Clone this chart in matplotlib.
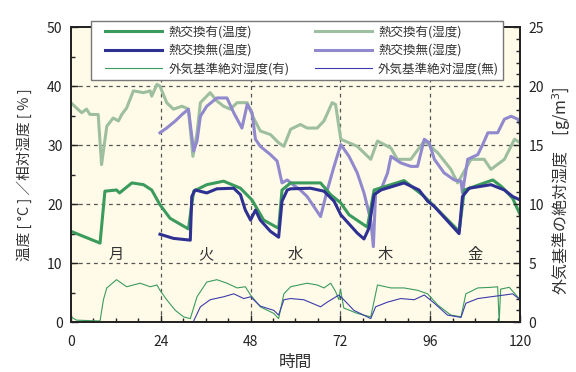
import matplotlib.pyplot as plt
from matplotlib.ticker import MultipleLocator
from matplotlib.lines import Line2D
from matplotlib.legend_handler import HandlerLine2D

plt.rcParams['font.family'] = ['Noto Sans CJK JP', 'DejaVu Sans']

# 熱交換有(温度)
t_temp_on = [0, 7.8, 9.1, 12.2, 13.0, 16.3, 19.4, 21.6, 23.8, 26.5, 31.4, 32.8, 36.3, 40.8,
             45.3, 48.4, 51.5, 55.5, 56.4, 58.7, 66.7, 69.4, 72.1, 74.3, 79.2, 81.0, 89.0,
             94.4, 97.1, 103.7, 105.1, 112.7, 115.0, 118.0, 120]
v_temp_on = [15.4, 13.4, 22.2, 22.4, 21.9, 23.6, 23.3, 22.4, 19.9, 17.6, 15.8, 22.2, 23.3, 23.9,
             22.7, 20.7, 17.3, 15.9, 22.4, 23.6, 23.6, 21.6, 20.2, 18.2, 16.1, 22.4, 24.0,
             21.3, 19.6, 15.4, 22.4, 24.1, 23.0, 21.0, 18.2]

# 熱交換無(温度)
t_temp_off = [23.8, 27.4, 31.9, 32.3, 33.2, 36.3, 39.0, 43.5, 45.3, 46.6, 48.0, 49.3, 50.6,
              53.3, 55.5, 56.4, 57.8, 58.7, 64.0, 67.6, 70.3, 72.1, 76.5, 78.3, 79.6, 81.0,
              82.8, 89.0, 93.0, 95.3, 97.1, 103.7, 104.6, 106.4, 112.2, 115.8, 118.0, 120]
v_temp_off = [14.9, 14.2, 13.9, 21.3, 22.4, 21.9, 22.6, 22.7, 21.6, 19.0, 17.3, 19.0, 17.3,
              15.4, 14.4, 20.5, 22.4, 22.6, 22.7, 22.2, 20.5, 18.2, 15.1, 14.1, 15.9, 21.6,
              22.4, 23.6, 22.4, 20.5, 19.6, 15.0, 21.3, 22.7, 23.3, 22.4, 21.3, 20.7]

# 熱交換有(湿度)
t_rh_on = [0, 1.5, 2.9, 4.2, 5.1, 7.3, 8.2, 9.6, 11.3, 12.7, 13.6, 14.9, 16.7, 19.4, 21.2,
           21.6, 23.0, 23.8, 25.6, 27.4, 29.7, 31.4, 32.6, 33.7, 34.6, 37.2, 39.0, 40.8,
           42.6, 44.4, 47.1, 48.8, 50.6, 53.3, 55.5, 56.9, 58.7, 61.3, 63.1, 65.8, 67.6,
           69.8, 70.7, 72.1, 76.5, 80.1, 81.9, 85.5, 87.2, 90.8, 94.4, 98.0, 101.5, 103.3,
           106.9, 110.4, 112.2, 115.8, 118.5, 120]
v_rh_on = [37.2, 36.3, 35.5, 36.1, 35.2, 35.2, 26.7, 33.2, 34.6, 34.1, 35.2, 36.3, 39.2, 38.9,
           39.2, 38.3, 40.3, 40.0, 37.2, 36.1, 36.6, 36.1, 28.1, 32.1, 37.2, 38.9, 37.5, 36.6,
           36.1, 37.2, 37.2, 34.6, 32.4, 31.8, 30.4, 29.8, 32.7, 33.5, 32.9, 32.9, 34.1,
           37.2, 36.9, 31.0, 29.8, 27.6, 30.7, 29.5, 27.6, 27.6, 30.7, 28.7, 25.9, 23.6,
           27.6, 27.6, 25.9, 27.6, 31.0, 30.4]

# 熱交換無(湿度)
t_rh_off = [23.8, 25.6, 27.9, 29.7, 31.4, 32.8, 33.7, 34.6, 36.3, 39.0, 41.7, 43.5, 45.7,
            47.1, 48.4, 49.3, 50.6, 53.3, 55.1, 56.4, 57.8, 58.7, 61.3, 63.1, 64.9, 66.7,
            68.5, 70.3, 72.1, 74.3, 76.5, 78.3, 80.1, 80.8, 81.4, 82.8, 84.6, 85.5, 88.1,
            90.8, 92.6, 94.4, 95.7, 97.1, 99.7, 102.4, 104.2, 104.6, 106.0, 108.7, 110.0,
            111.4, 114.0, 115.8, 117.6, 119.4, 120]
v_rh_off = [32.1, 32.9, 34.1, 35.2, 36.1, 29.0, 30.7, 34.9, 36.6, 38.0, 38.0, 35.5, 32.9,
            36.9, 35.5, 31.0, 29.8, 28.4, 27.3, 23.6, 24.1, 23.6, 22.4, 21.3, 19.6, 17.9,
            22.4, 26.4, 30.1, 28.1, 25.3, 21.9, 17.3, 12.8, 21.9, 22.4, 25.3, 28.1, 27.0,
            26.4, 26.4, 31.0, 30.4, 27.6, 25.3, 24.1, 23.9, 21.9, 27.6, 28.4, 30.1,
            32.1, 32.1, 34.4, 34.9, 34.4, 33.5]

# 外気基準絶対湿度(有)  [g/m3]
t_ah_on = [0, 1.5, 7.8, 8.7, 9.6, 12.2, 14.9, 18.5, 21.2, 23.0, 23.8, 25.6, 27.9, 30.1,
           31.9, 33.7, 36.3, 39.0, 41.7, 44.4, 46.6, 48.0, 50.6, 54.2, 55.5, 56.9, 58.7,
           63.1, 65.8, 67.6, 69.4, 70.7, 71.6, 72.0, 72.9, 76.5, 80.1, 81.9, 85.5, 89.0,
           92.6, 95.3, 98.0, 101.5, 104.2, 105.5, 108.7, 112.2, 114.0, 114.4, 114.8,
           117.1, 118.9, 120]
v_ah_on = [0.45, 0.17, 0.1, 1.9, 2.9, 3.6, 3.0, 3.3, 3.0, 3.15, 2.7, 1.9, 1.0, 0.45,
           0.3, 2.15, 3.4, 3.6, 3.3, 2.9, 3.0, 2.3, 1.3, 0.74, 0.3, 2.4, 3.0,
           3.3, 3.15, 2.9, 3.3, 2.6, 1.9, 2.8, 1.2, 0.74, 0.45, 3.15, 2.9, 2.9,
           2.7, 2.4, 1.45, 0.6, 0.45, 2.4, 2.9, 2.95, 3.0, 0.0, 2.8,
           2.95, 2.3, 1.9]

# 外気基準絶対湿度(無)  [g/m3]
t_ah_off = [32.8, 34.6, 37.2, 40.8, 43.5, 46.2, 48.0, 50.6, 54.2, 55.5, 56.9, 58.7, 62.2,
            66.7, 68.5, 71.6, 72.9, 75.6, 80.1, 81.4, 84.6, 88.1, 91.7, 94.4, 97.1, 100.6,
            104.2, 105.5, 108.7, 112.2, 115.8, 118.0, 120]
v_ah_off = [0.1, 1.3, 1.9, 2.15, 2.4, 2.0, 2.15, 1.36, 1.0, 0.6, 1.9, 2.0, 1.9,
            1.3, 1.7, 2.3, 1.9, 1.0, 0.3, 1.3, 1.7, 2.0, 1.9, 2.3, 1.6, 0.6,
            0.4, 1.6, 2.0, 2.15, 2.3, 2.4, 1.9]

days = ['月', '火', '水', '木', '金']
day_pos = [12, 36, 60, 84, 108]

c_g = '#3b9b5d'
c_b = '#2e3192'
c_lg = '#9dbf9f'
c_lv = '#9189cd'
c_tb = '#3c3cab'

fig = plt.figure(figsize=(5.76, 3.72), dpi=100)
ax = fig.add_axes([0.123, 0.134, 0.78, 0.793])
ax.set_facecolor('#fffbe8')
ax2 = ax.twinx()

l3, = ax.plot(t_rh_on, v_rh_on, color=c_lg, lw=2.2, label='熱交換有(湿度)')
l4, = ax.plot(t_rh_off, v_rh_off, color=c_lv, lw=2.2, label='熱交換無(湿度)')
l1, = ax.plot(t_temp_on, v_temp_on, color=c_g, lw=2.2, label='熱交換有(温度)')
l2, = ax.plot(t_temp_off, v_temp_off, color=c_b, lw=2.2, label='熱交換無(温度)')
l5, = ax2.plot(t_ah_on, v_ah_on, color=c_g, lw=0.8, label='外気基準絶対湿度(有)')
l6, = ax2.plot(t_ah_off, v_ah_off, color=c_tb, lw=0.8, label='外気基準絶対湿度(無)')

for d, x in zip(days, day_pos):
    ax.text(x, 11.5, d, ha='center', va='center', fontsize=11, color='#333333')

ax.set_xlim(0, 120)
ax.set_ylim(0, 50)
ax2.set_ylim(0, 25)
ax.set_xticks([0, 24, 48, 72, 96, 120])
ax.xaxis.set_minor_locator(MultipleLocator(6))
ax.set_yticks([0, 10, 20, 30, 40, 50])
ax.yaxis.set_minor_locator(MultipleLocator(5))
ax2.set_yticks([0, 5, 10, 15, 20, 25])
ax2.yaxis.set_minor_locator(MultipleLocator(1))

for a in (ax, ax2):
    a.tick_params(which='both', direction='in', labelsize=10, colors='#222222', pad=6)
    a.tick_params(which='major', length=5, width=1)
    a.tick_params(which='minor', length=3, width=1)
    for s in a.spines.values():
        s.set_linewidth(1.3)
        s.set_color('#222222')
ax.tick_params(top=False, which='both')
ax.tick_params(axis='x', pad=9)

for x in [24, 48, 72, 96]:
    ax.axvline(x, color='#555555', lw=0.9, ls=(0, (3, 3)), zorder=1)
for y in [10, 20, 30, 40]:
    ax.axhline(y, color='#555555', lw=0.9, ls=(0, (3, 3)), zorder=1)

ax.set_xlabel('時間', fontsize=12, color='#333333', labelpad=4)
ax.set_ylabel('温度 [ °C ] ／相対湿度 [ % ]', fontsize=10.5, color='#333333')
ax2.set_ylabel('外気基準の絶対湿度　[g/m$^3$]', fontsize=11.5, color='#333333')
ax.yaxis.set_label_coords(-0.087, 0.5)
ax2.yaxis.set_label_coords(1.068, 0.445)

handles = [l1, l2, l5, l3, l4, l6]
leg = fig.legend(handles, [h.get_label() for h in handles], loc='upper left',
                 bbox_to_anchor=(85 / 576, 1 - 15 / 372), ncol=2, fontsize=9, frameon=True,
                 fancybox=False, edgecolor='#777777', framealpha=1, handlelength=5.33,
                 handletextpad=0.5, columnspacing=1.25, labelspacing=0.42, borderpad=0.35,
                 handler_map={Line2D: HandlerLine2D(xpad=0.77)})
leg.get_frame().set_linewidth(1.0)
for txt in leg.get_texts():
    txt.set_color('#333333')

fig.savefig('out.png', dpi=100)
